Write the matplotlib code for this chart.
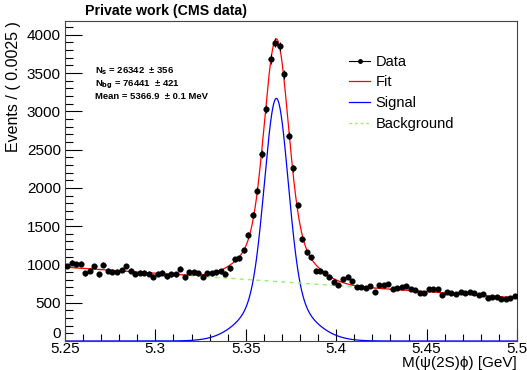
import numpy as np
import matplotlib
matplotlib.use("Agg")
import matplotlib.pyplot as plt
from matplotlib.ticker import MultipleLocator, FuncFormatter
from matplotlib.lines import Line2D
from matplotlib.transforms import blended_transform_factory

plt.rcParams['font.family'] = ['Liberation Sans', 'DejaVu Sans']

# binning (0.0025 GeV bins)
x_lo, x_hi, n_bins = 5.25, 5.5, 100

# events per bin
counts = [980, 1024, 1002, 1007, 885, 920, 980, 872, 998, 920,
          906, 906, 928, 980, 920, 880, 893, 893, 880, 841,
          880, 893, 845, 872, 872, 946, 832, 898, 898, 885,
          841, 885, 885, 898, 911, 880, 950, 1068, 1080, 1185,
          1386, 1647, 1965, 2444, 3029, 3682, 3899, 3847, 3486, 2684,
          2258, 1774, 1333, 1159, 1094, 919, 919, 885, 841, 776,
          729, 807, 841, 788, 702, 702, 697, 719, 645, 732,
          732, 745, 680, 689, 702, 719, 676, 667, 624, 624,
          680, 676, 676, 601, 641, 624, 614, 641, 624, 637,
          624, 601, 614, 558, 579, 579, 549, 549, 558, 592]

# fit results
n_sig = 26342
n_bkg = 76441
sig_mean = 5.3669
sig_sigma = [0.0064, 0.016]
sig_frac_wide = 0.38
bkg_c1 = -0.262

counts = np.array(counts, dtype=float)
edges = np.linspace(x_lo, x_hi, n_bins + 1)
centers = 0.5 * (edges[:-1] + edges[1:])
bw = edges[1] - edges[0]


def gauss(m, mu, s):
    return np.exp(-0.5 * ((m - mu) / s) ** 2) / (s * np.sqrt(2 * np.pi))


m = np.linspace(x_lo, x_hi, 1000)
sig = n_sig * bw * ((1 - sig_frac_wide) * gauss(m, sig_mean, sig_sigma[0])
                    + sig_frac_wide * gauss(m, sig_mean, sig_sigma[1]))
u = (m - 0.5 * (x_lo + x_hi)) / (0.5 * (x_hi - x_lo))
bkg = n_bkg / n_bins * (1 + bkg_c1 * u)
tot = sig + bkg

fig = plt.figure(figsize=(5.27, 3.70), dpi=100)
ax = fig.add_axes([65 / 527, 29 / 370, 452 / 527, 320 / 370])

ax.plot(m, sig, color='#0000ff', lw=0.9)
ax.plot(m, bkg, color='#99ee77', lw=1.0, ls=(0, (3, 3)))
ax.plot(m, tot, color='#ff0000', lw=0.9)
ax.errorbar(centers, counts, yerr=np.sqrt(counts), xerr=bw / 2, fmt='o',
            color='black', ms=3.4, elinewidth=0.8, capsize=0, zorder=5)

ax.set_xlim(x_lo, x_hi)
ax.set_ylim(0, 4180)
ax.xaxis.set_minor_locator(MultipleLocator(0.01))
ax.yaxis.set_major_locator(MultipleLocator(500))
ax.yaxis.set_minor_locator(MultipleLocator(100))
# the "0" label is drawn by hand below, sitting a bit higher like in ROOT
ax.yaxis.set_major_formatter(FuncFormatter(lambda v, p: '' if v == 0 else '%d' % v))
ax.set_xticks([5.25, 5.3, 5.35, 5.4, 5.45, 5.5])
ax.set_xticklabels(['5.25', '5.3', '5.35', '5.4', '5.45', '5.5'])
ax.tick_params(which='both', direction='in', top=False, right=False, labelsize=11)
ax.tick_params(axis='y', which='major', length=12, width=0.8, pad=3)
ax.tick_params(axis='y', which='minor', length=6, width=0.8)
ax.tick_params(axis='x', which='major', length=9, width=0.8, pad=1)
ax.tick_params(axis='x', which='minor', length=5, width=0.8)
for sp in ax.spines.values():
    sp.set_linewidth(0.8)
    sp.set_color('#444444')

trans = blended_transform_factory(ax.transAxes, ax.transData)
ax.text(-0.009, 0, '0', transform=trans, fontsize=11, ha='right', va='bottom')

ax.set_ylabel('Events / ( 0.0025 )', fontsize=11.5, loc='top', labelpad=4)
fig.text(517 / 527, 1 - 363 / 370, 'M(ψ(2S)ϕ) [GeV]', fontsize=11,
         ha='right', va='center')

fig.text(85 / 527, 1 - 11 / 370, 'Private work (CMS data)', fontsize=10.2,
         fontweight='bold', va='center', ha='left')

ax.text(0.066, 0.835, r'N$_{\mathbf{s}}$ = 26342  ± 356', transform=ax.transAxes,
        fontsize=6.8, fontweight='bold')
ax.text(0.066, 0.795, r'N$_{\mathbf{bg}}$ = 76441  ± 421', transform=ax.transAxes,
        fontsize=6.8, fontweight='bold')
ax.text(0.066, 0.755, 'Mean = 5366.9  ± 0.1 MeV', transform=ax.transAxes,
        fontsize=6.8, fontweight='bold')

handles = [Line2D([], [], color='black', marker='o', ms=2.5, lw=0.8),
           Line2D([], [], color='#ff0000', lw=0.9),
           Line2D([], [], color='#0000ff', lw=0.9),
           Line2D([], [], color='#99ee77', lw=1.0, ls=(0, (2, 2)))]
ax.legend(handles, ['Data', 'Fit', 'Signal', 'Background'], loc='upper left',
          bbox_to_anchor=(0.6, 0.935), frameon=False, fontsize=10.5,
          handlelength=1.4, handletextpad=0.4, labelspacing=0.45)

fig.savefig('out.png', dpi=100)
